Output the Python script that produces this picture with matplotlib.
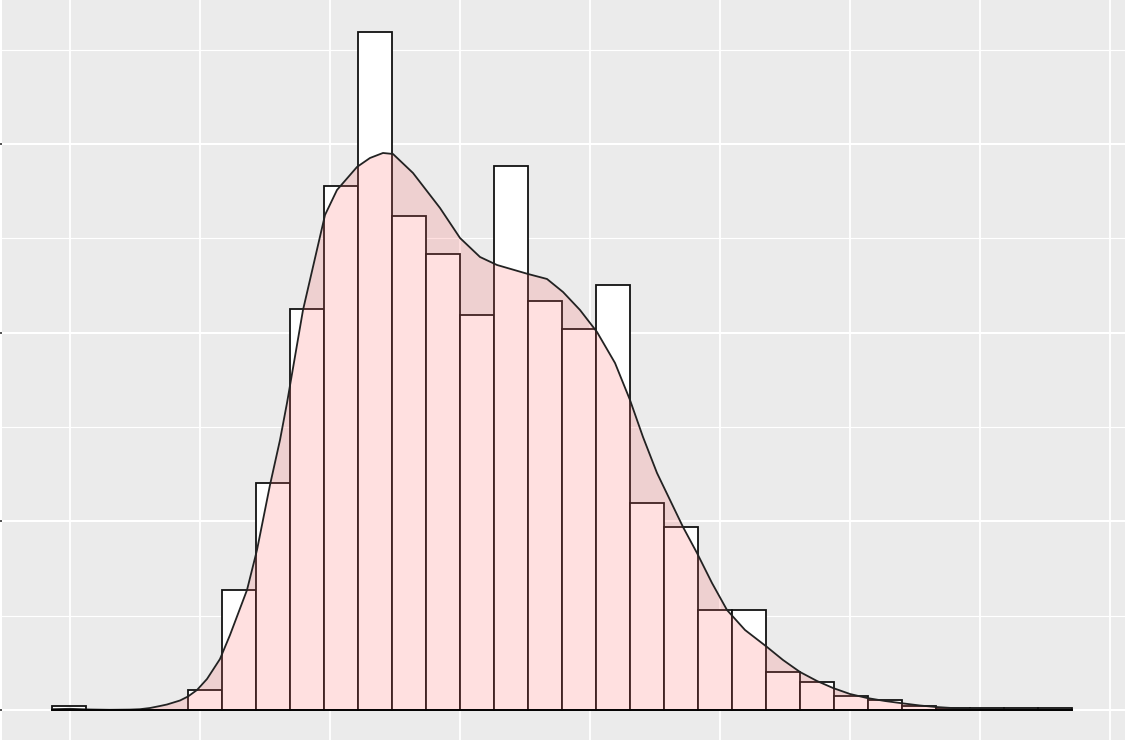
import numpy as np
import matplotlib
matplotlib.use("Agg")
import matplotlib.pyplot as plt

# ---------------- data ----------------
# histogram: 30 bins between data min and max (counts per bin)
bin_min = -0.692
bin_max = 38.538
bin_counts = [2, 0, 0, 0, 10, 60, 113, 200, 261, 338,
              246, 227, 197, 271, 204, 190, 212, 103, 91, 50,
              50, 19, 14, 7, 5, 2, 1, 1, 1, 1]

# kernel density estimate
dens_x = [-0.692, 0.0, 0.769, 1.538, 2.308, 2.692, 3.077, 3.462, 3.731, 4.231,
          4.538, 4.885, 5.269, 5.769, 6.154, 6.808, 7.192, 7.692, 8.077, 8.346,
          8.962, 9.808, 10.269, 11.038, 11.538, 12.038, 12.423, 13.192, 14.231, 15.0,
          15.769, 16.423, 17.615, 18.346, 18.962, 19.615, 20.269, 20.962, 21.538, 22.038,
          22.577, 23.077, 23.577, 24.115, 24.692, 25.269, 25.962, 26.808, 27.423, 28.077,
          28.731, 29.346, 30.0, 30.654, 31.346, 31.923, 32.692, 33.308, 34.231, 35.769,
          37.308, 38.538]
dens_y = [0.000106, 0.000159, 0.000066, 0.000026, 0.000053, 0.000106, 0.000265, 0.000530, 0.000729, 0.001259,
          0.001789, 0.002650, 0.004107, 0.006757, 0.009937, 0.015899, 0.021198, 0.029810, 0.035772, 0.040674,
          0.052996, 0.065583, 0.068895, 0.071942, 0.073134, 0.073797, 0.073664, 0.071147, 0.066510, 0.062535,
          0.060018, 0.058958, 0.057766, 0.057104, 0.055380, 0.052996, 0.050081, 0.045974, 0.041072, 0.036170,
          0.031400, 0.027823, 0.024246, 0.020801, 0.016826, 0.013249, 0.010599, 0.008347, 0.006625, 0.005035,
          0.003842, 0.002915, 0.002120, 0.001590, 0.001192, 0.000927, 0.000596, 0.000397, 0.000199, 0.000066,
          0.000026, 0.000026]

y_major = [0.0, 0.025, 0.05, 0.075]
y_minor = [0.0125, 0.0375, 0.0625, 0.0875]
x_grid = [0, 5, 10, 15, 20, 25, 30, 35, 40]

# ---------------- derived ----------------
counts = np.array(bin_counts, dtype=float)
n_bins = len(counts)
bw = (bin_max - bin_min) / n_bins
edges = bin_min + bw * np.arange(n_bins + 1)
density = counts / (counts.sum() * bw)

# ---------------- figure ----------------
W, H = 1136, 740
fig = plt.figure(figsize=(W / 100, H / 100), dpi=100, facecolor="white")
ax = fig.add_axes([2 / W, 0, 1123 / W, 1])
ax.set_facecolor("#EBEBEB")

px_x = 26.0           # pixels per x unit
x0_px = 70.0          # pixel position of x = 0
ax.set_xlim((2 - x0_px) / px_x, (1125 - x0_px) / px_x)
py = 188.7 / 0.025    # pixels per y unit
ax.set_ylim(-30 / py, 710 / py)

# grid
for x in x_grid:
    ax.axvline(x, color="white", lw=1.3, zorder=0)
for y in y_major:
    ax.axhline(y, color="white", lw=1.5, zorder=0)
for y in y_minor:
    ax.axhline(y, color="white", lw=0.8, zorder=0)

# histogram
ax.bar(edges[:-1], density, width=bw, align="edge", color="white",
       edgecolor="#111111", linewidth=1.3, zorder=2)

# density
ax.fill_between(dens_x, 0, dens_y, color="#FF6666", alpha=0.2, lw=0, zorder=3)
ax.plot(dens_x, dens_y, color="#222222", lw=1.3, zorder=4,
        solid_joinstyle="round")
ax.plot([dens_x[0], dens_x[-1]], [0, 0], color="black", lw=1.3, zorder=4)

for s in ax.spines.values():
    s.set_visible(False)
ax.set_xticks([])
ax.set_yticks(y_major)
ax.set_yticklabels([])
ax.tick_params(axis="y", length=3, width=1.2, color="#333333")

fig.savefig("out.png", dpi=100, facecolor="white")
